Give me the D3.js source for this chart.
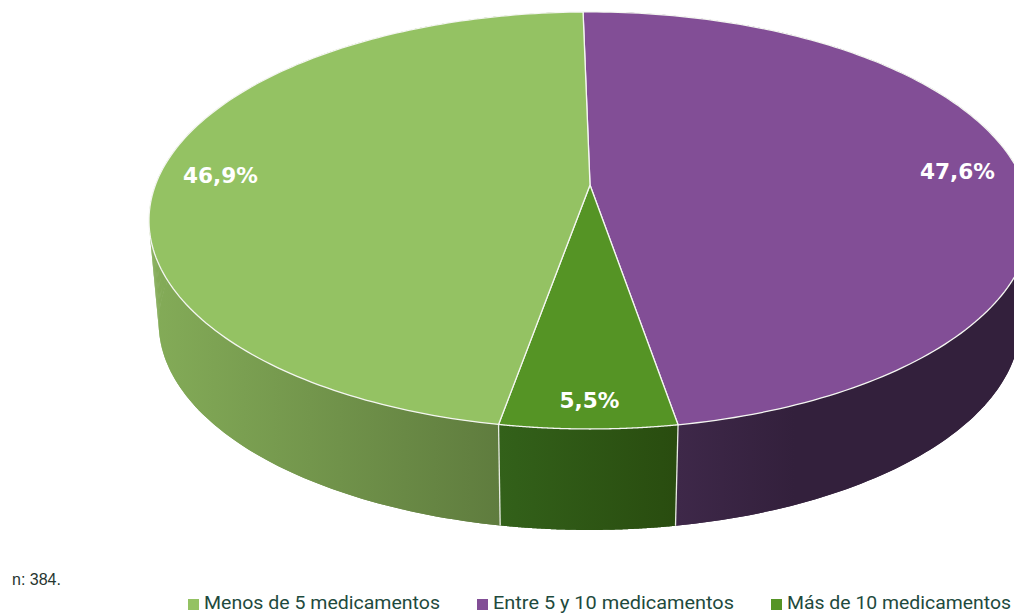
<!DOCTYPE html>
<html><head><meta charset="utf-8">
<script src="https://cdn.jsdelivr.net/npm/d3@7"></script>
<style>html,body{margin:0;padding:0;background:#fff;overflow:hidden}svg{display:block}</style>
</head><body><svg id="c" width="1014" height="613"></svg>
<script>
const categories = ["Menos de 5 medicamentos","Entre 5 y 10 medicamentos","Más de 10 medicamentos"];
const values = [46.9,47.6,5.5];
const labels = ["46,9%","47,6%","5,5%"];
const topColors = ["#94c263","#824e96","#559425"];
const wallStops = [["#84ac58","#5f7c3e"],["#3e2849","#33203c"],["#33611a","#294c0f"]];
const note = "n: 384.";
const startDeg = -1.07;

const svg = d3.select("#c");
const defs = svg.append("defs");
const k = 0.17;
const topPlane = {cx:590, y0:185, R:434.6, B:202.5};
const botPlane = {cx:589.5, y0:287.8, R:424.5, B:201};
function proj(p,a,r=1){ // a: clockwise from top, radians
  const u=Math.sin(a)*r, v=-Math.cos(a)*r, w=1-k*v;
  return [p.cx+p.R*u/w, p.y0+p.B*v/w];
}
const pie = d3.pie().sort(null).value(d=>d)
  .startAngle(startDeg*Math.PI/180).endAngle((startDeg+360)*Math.PI/180);
// clockwise order from the top: purple, green, light green
const order=[1,2,0];
const arcs = pie(order.map(i=>values[i])).map((d,n)=>({...d,idx:order[n]}));
const line=d3.line();
const samples=(a0,a1)=>d3.range(0,161).map(i=>a0+(a1-a0)*i/160);

const gWalls=svg.append("g"), gTop=svg.append("g"), gText=svg.append("g");
arcs.forEach(d=>{
  const i=d.idx, id="w"+i, s=samples(d.startAngle,d.endAngle);
  const tp=s.map(a=>proj(topPlane,a)), bp=s.map(a=>proj(botPlane,a));
  const minX=d3.min(tp,p=>p[0]), maxX=d3.max(tp,p=>p[0]);
  const lg=defs.append("linearGradient").attr("id",id).attr("gradientUnits","userSpaceOnUse")
    .attr("x1",i===1?678:minX).attr("x2",i===1?(678+maxX)/2-60:(i===0?500:maxX)).attr("y1",0).attr("y2",0);
  lg.append("stop").attr("offset",0).attr("stop-color",wallStops[i][0]);
  lg.append("stop").attr("offset",1).attr("stop-color",wallStops[i][1]);
  // quads join both rims at the side silhouette; the band on top keeps the fill smooth
  gWalls.append("g").selectAll("path").data(d3.range(s.length-1)).join("path")
    .attr("d",j=>line([tp[j],tp[j+1],bp[j+1],bp[j]])+"Z")
    .attr("fill",`url(#${id})`);
  gWalls.append("path").attr("d",line(tp.concat(bp.slice().reverse()))+"Z").attr("fill",`url(#${id})`);
});
// wall seams
arcs.forEach(d=>{
  if(d.idx===2){[d.startAngle,d.endAngle].forEach(a=>{
    gWalls.append("path").attr("d",line([proj(topPlane,a),proj(botPlane,a)]))
      .attr("stroke","#e8ece4").attr("stroke-width",1.3).attr("fill","none");
  });}
});
arcs.forEach(d=>{
  const pts=[proj(topPlane,0,0)].concat(samples(d.startAngle,d.endAngle).map(a=>proj(topPlane,a)));
  gTop.append("path").attr("d",line(pts)+"Z").attr("fill",topColors[d.idx])
    .attr("stroke","#f4f6f1").attr("stroke-width",1.3).attr("stroke-linejoin","round");
});
const labelPos=[[220.5,175],[957.5,171],[589.5,400]];
labels.forEach((t,i)=>gText.append("text").attr("x",labelPos[i][0]).attr("y",labelPos[i][1])
  .attr("dy","0.36em").attr("text-anchor","middle").attr("fill","#fff")
  .attr("font-family","'DejaVu Sans'").attr("font-weight",700).attr("font-size",21.6).text(t));
gText.append("text").attr("x",12).attr("y",585).attr("font-family","'Liberation Sans'")
  .attr("font-size",16).attr("fill","#26352f").text(note);
const legX=[[188,204],[477,493],[771,787]];
const legW=[236,241,224];
categories.forEach((t,i)=>{
  gText.append("rect").attr("x",legX[i][0]).attr("y",599).attr("width",11).attr("height",11).attr("fill",topColors[i]);
  gText.append("text").attr("x",legX[i][1]).attr("y",609).attr("font-family","'Roboto'")
    .attr("font-size",19).attr("fill","#1e4a3d")
    .attr("textLength",legW[i]).attr("lengthAdjust","spacingAndGlyphs").text(t);
});
</script></body></html>
